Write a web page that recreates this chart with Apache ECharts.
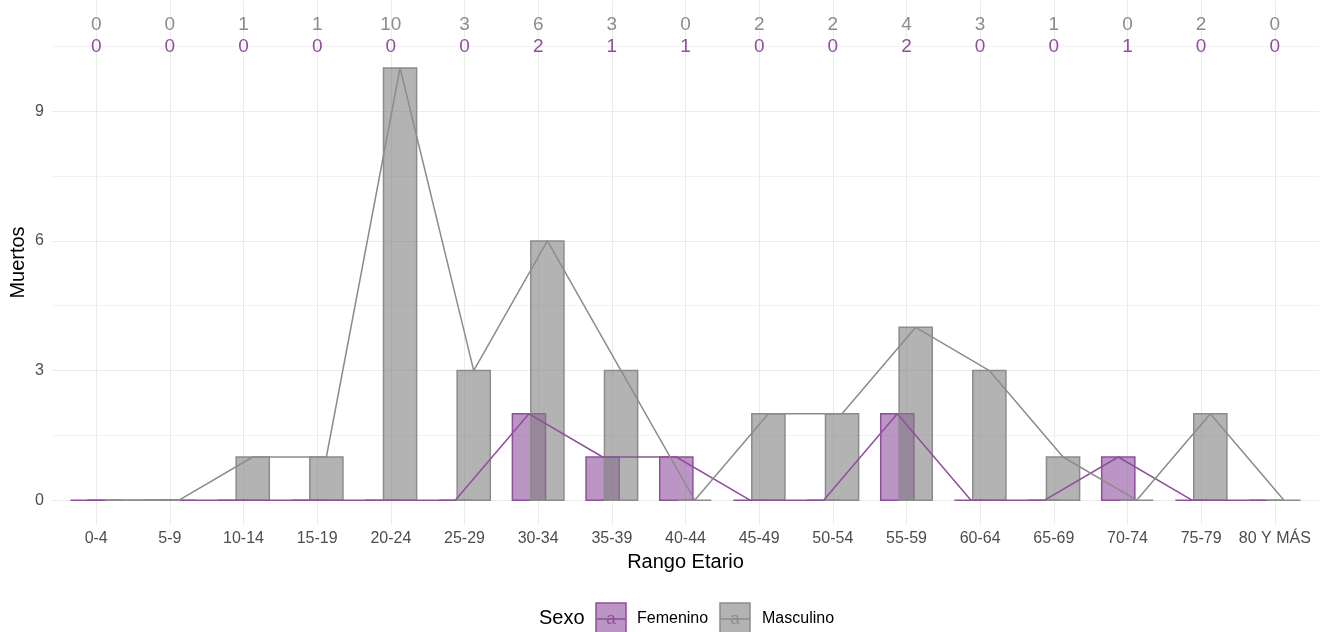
<!DOCTYPE html>
<html><head><meta charset="utf-8">
<script src="https://cdn.jsdelivr.net/npm/echarts@6/dist/echarts.min.js"></script>
<style>html,body{margin:0;padding:0;background:#fff}#c{width:1323px;height:632px}</style>
</head><body><div id="c"></div>
<script>
const categories = ['0-4','5-9','10-14','15-19','20-24','25-29','30-34','35-39','40-44','45-49','50-54','55-59','60-64','65-69','70-74','75-79','80 Y MÁS'];
const masculino = [0,0,1,1,10,3,6,3,0,2,2,4,3,1,0,2,0];
const femenino  = [0,0,0,0,0,0,2,1,1,0,0,2,0,0,1,0,0];
const yTickLabels = [0,3,6,9];
const yMinorLines = [1.5,4.5,7.5,10.5];

const FONT = '"Liberation Sans", Arial, Helvetica, sans-serif';
const PURPLE = '#8e4f9b', GRAY = '#8c8c8c';
const PURPLE_FILL = 'rgba(142,79,155,0.6)', GRAY_FILL = 'rgba(128,128,128,0.6)';
const OFF = 0.125, BW = 0.45;

function barSeries(name, vals, off, fill, stroke, z) {
  return {
    type: 'custom', name, z, silent: true,
    data: vals.map((v, i) => [i, v]),
    encode: { x: 0, y: 1 },
    renderItem(params, api) {
      const i = api.value(0), v = api.value(1);
      const a = api.coord([i + off - BW / 2, 0]);
      const b = api.coord([i + off + BW / 2, v]);
      return {
        type: 'rect',
        shape: { x: a[0], y: b[1], width: b[0] - a[0], height: a[1] - b[1] },
        style: { fill, stroke, lineWidth: 1.5 }
      };
    }
  };
}
function lineSeries(name, vals, off, color, z) {
  return {
    type: 'line', name, z, silent: true, symbol: 'none', animation: false,
    data: vals.map((v, i) => [i + off, v]),
    lineStyle: { color, width: 1.5 }
  };
}
function textSeries(vals, y, color) {
  return {
    type: 'scatter', z: 5, silent: true, symbolSize: 1,
    itemStyle: { color: 'rgba(0,0,0,0)' },
    data: vals.map((v, i) => [i, y, v]),
    label: { show: true, position: 'inside', formatter: p => String(p.data[2]),
      fontSize: 19, color, fontFamily: FONT, textBorderWidth: 0, opacity: 1 }
  };
}

const xIdx = categories.map((_, i) => i);
const chart = echarts.init(document.getElementById('c'), null, { renderer: 'canvas' });
chart.setOption({
  animation: false,
  backgroundColor: '#fff',
  grid: { left: 52, right: 4, top: 1, height: 523, containLabel: false, outerBoundsMode: 'none' },
  xAxis: {
    type: 'value', min: -0.6, max: 16.6,
    axisLine: { show: false },
    axisTick: { show: false, customValues: xIdx },
    axisLabel: { customValues: xIdx, formatter: v => categories[Math.round(v)],
      fontSize: 16, color: '#4d4d4d', margin: 7, fontFamily: FONT },
    splitLine: { show: true, lineStyle: { color: '#ebebeb', width: 1 } },
    name: 'Rango Etario', nameLocation: 'middle', nameGap: 28, nameMoveOverlap: false,
    nameTextStyle: { fontSize: 20, color: '#000', fontFamily: FONT }
  },
  yAxis: [{
    type: 'value', min: -0.55, max: 11.55,
    axisLine: { show: false },
    axisTick: { show: false, customValues: yTickLabels },
    axisLabel: { customValues: yTickLabels, fontSize: 16, color: '#4d4d4d', margin: 8, fontFamily: FONT },
    splitLine: { show: true, lineStyle: { color: '#ebebeb', width: 1 } },
    name: 'Muertos', nameLocation: 'middle', nameGap: 24, nameRotate: 90, nameMoveOverlap: false,
    nameTextStyle: { fontSize: 20, color: '#000', fontFamily: FONT }
  }, {
    type: 'value', min: -0.55, max: 11.55, position: 'left',
    axisLine: { show: false },
    axisTick: { show: false, customValues: yMinorLines },
    axisLabel: { show: false, customValues: yMinorLines },
    splitLine: { show: true, lineStyle: { color: '#f2f2f2', width: 1 } }
  }],
  series: [
    barSeries('Femenino', femenino, -OFF, PURPLE_FILL, PURPLE, 2),
    barSeries('Masculino', masculino, OFF, GRAY_FILL, GRAY, 2),
    lineSeries('Femenino', femenino, -OFF, PURPLE, 3),
    lineSeries('Masculino', masculino, OFF, GRAY, 3),
    textSeries(masculino, 11, GRAY),
    textSeries(femenino, 10.5, PURPLE)
  ],
  graphic: [
    { type: 'text', left: 539, top: 608, style: { text: 'Sexo', fontSize: 20, fill: '#000', fontFamily: FONT } },
    { type: 'rect', shape: { x: 596, y: 603, width: 30, height: 31 }, style: { fill: PURPLE_FILL, stroke: PURPLE, lineWidth: 1.5 } },
    { type: 'line', shape: { x1: 596, y1: 619, x2: 626, y2: 619 }, style: { stroke: PURPLE, lineWidth: 1.5 } },
    { type: 'text', x: 611, y: 619, style: { text: 'a', fontSize: 17, fill: PURPLE, align: 'center', verticalAlign: 'middle', fontFamily: FONT } },
    { type: 'text', x: 637, y: 619, style: { text: 'Femenino', fontSize: 16, fill: '#000', verticalAlign: 'middle', fontFamily: FONT } },
    { type: 'rect', shape: { x: 720, y: 603, width: 30, height: 31 }, style: { fill: GRAY_FILL, stroke: GRAY, lineWidth: 1.5 } },
    { type: 'line', shape: { x1: 720, y1: 619, x2: 750, y2: 619 }, style: { stroke: GRAY, lineWidth: 1.5 } },
    { type: 'text', x: 735, y: 619, style: { text: 'a', fontSize: 17, fill: GRAY, align: 'center', verticalAlign: 'middle', fontFamily: FONT } },
    { type: 'text', x: 762, y: 619, style: { text: 'Masculino', fontSize: 16, fill: '#000', verticalAlign: 'middle', fontFamily: FONT } }
  ]
});
</script></body></html>
